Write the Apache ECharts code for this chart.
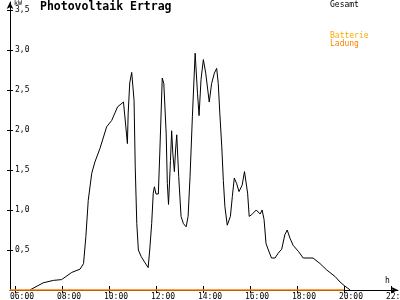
<!DOCTYPE html>
<html>
<head>
<meta charset="utf-8">
<script src="https://cdn.jsdelivr.net/npm/echarts@6/dist/echarts.min.js"></script>
<style>html,body{margin:0;padding:0;background:#fff}#c{width:400px;height:300px}</style>
</head>
<body>
<div id="c"></div>
<script>
const titleText = 'Photovoltaik Ertrag';
const seriesNames = ['Gesamt', 'Batterie Ladung'];
const yTicks = [0.5, 1.0, 1.5, 2.0, 2.5, 3.0, 3.5];
const xTicks = [6, 8, 10, 12, 14, 16, 18, 20, 22];

const gesamtTimes = ['06:38','07:12','07:38','07:59','08:25','08:46','08:55','09:01','09:07','09:16','09:24','09:37','09:54','10:07','10:22','10:37','10:43','10:47','10:49','10:53','10:58','11:00','11:04','11:07','11:11','11:15','11:22','11:32','11:40','11:44','11:49','11:53','11:56','12:00','12:06','12:10','12:16','12:20','12:26','12:29','12:32','12:37','12:40','12:43','12:47','12:50','12:53','12:58','13:04','13:10','13:17','13:22','13:27','13:33','13:40','13:46','13:50','13:55','14:01','14:07','14:16','14:22','14:29','14:35','14:39','14:43','14:48','14:52','14:56','15:02','15:05','15:10','15:15','15:20','15:26','15:32','15:36','15:40','15:46','15:50','15:54','15:58','16:04','16:16','16:26','16:31','16:36','16:41','16:47','16:55','17:04','17:12','17:21','17:29','17:35','17:42','17:50','18:04','18:16','18:41','18:59','19:16','19:37','19:50','20:02','20:16'];
const gesamtValues = [0,0.09,0.12,0.13,0.22,0.26,0.33,0.67,1.12,1.46,1.60,1.77,2.04,2.12,2.29,2.35,2.04,1.83,2.21,2.59,2.72,2.73,2.37,1.54,0.83,0.50,0.42,0.34,0.28,0.50,0.83,1.21,1.29,1.20,1.20,1.75,2.65,2.58,1.96,1.33,1.07,1.62,1.99,1.71,1.48,1.75,1.94,1.42,0.92,0.83,0.79,0.92,1.42,2.17,2.96,2.46,2.18,2.63,2.88,2.71,2.35,2.58,2.71,2.77,2.58,2.21,1.79,1.37,1.04,0.81,0.79,0.92,1.17,1.40,1.33,1.23,1.21,1.31,1.48,1.46,1.21,0.92,0.94,1.00,0.95,1.00,0.88,0.58,0.50,0.40,0.40,0.46,0.51,0.69,0.75,0.65,0.56,0.48,0.40,0.40,0.33,0.25,0.17,0.10,0.05,0];

const ladungTimes = ['05:47','20:00'];
const ladungValues = [0, 0];

function toHours(s){const p=s.split(':');return +p[0] + (+p[1])/60;}
function pairs(ts, vs){return ts.map((t,i)=>[toHours(t), vs[i]]);}

const FONT = '"DejaVu Sans Mono", monospace';
const chart = echarts.init(document.getElementById('c'), null, {renderer:'canvas'});
const xMin = 5.787, xMax = 22.3;
chart.setOption({
  animation: false,
  backgroundColor: '#ffffff',
  title: {
    text: titleText, left: 40, top: 1, padding: 0,
    textStyle: {fontFamily: FONT, fontSize: 11.5, fontWeight: 'bold', color: '#000'}
  },
  grid: {left: 10, right: 2, top: 2, bottom: 10, containLabel: false, outerBoundsMode: 'none'},
  xAxis: [{
    type: 'value', min: xMin, max: xMax, position: 'bottom',
    splitLine: {show: false},
    axisLine: {show: true, lineStyle: {color: '#000', width: 1}, symbol: ['none','arrow'], symbolSize: [5,7]},
    axisTick: {show: true, length: 3, customValues: xTicks, lineStyle: {color:'#000'}},
    axisLabel: {
      customValues: xTicks, margin: 3, color: '#000', fontFamily: FONT, fontSize: 8,
      padding: [0,0,0,14], hideOverlap: false,
      formatter: v => String(Math.round(v)).padStart(2,'0') + ':00'
    }
  }, {
    type: 'value', min: xMin, max: xMax, position: 'bottom',
    splitLine: {show: false}, axisLine: {show: false},
    axisTick: {show: true, inside: true, length: 4, customValues: xTicks, lineStyle: {color:'#000'}},
    axisLabel: {show: false}
  }],
  yAxis: [{
    type: 'value', min: 0, max: 3.6, position: 'left',
    splitLine: {show: false},
    axisLine: {show: true, lineStyle: {color: '#000', width: 1}, symbol: ['none','arrow'], symbolSize: [5,7]},
    axisTick: {show: true, length: 3, customValues: yTicks, lineStyle: {color:'#000'}},
    axisLabel: {
      customValues: yTicks, inside: true, margin: 5, color: '#000', fontFamily: FONT, fontSize: 8,
      formatter: v => v.toFixed(1).replace('.', ',')
    }
  }, {
    type: 'value', min: 0, max: 3.6, position: 'left',
    splitLine: {show: false}, axisLine: {show: false},
    axisTick: {show: true, inside: true, length: 3, customValues: yTicks, lineStyle: {color:'#000'}},
    axisLabel: {show: false}
  }],
  graphic: [
    {type: 'text', left: 14, top: 0, style: {text: 'kW', font: '6.5px ' + FONT, fill: '#000'}},
    {type: 'text', left: 385, top: 277, style: {text: 'h', font: '8px ' + FONT, fill: '#000'}},
    {type: 'text', left: 330, top: 1, style: {text: 'Gesamt', font: '8px ' + FONT, fill: '#000'}},
    {type: 'text', left: 330, top: 32, style: {text: 'Batterie', font: '8px ' + FONT, fill: '#ffaa00'}},
    {type: 'text', left: 330, top: 40, style: {text: 'Ladung', font: '8px ' + FONT, fill: '#ff8000'}}
  ],
  series: [{
    name: seriesNames[0], type: 'line', xAxisIndex: 0, yAxisIndex: 0,
    data: pairs(gesamtTimes, gesamtValues), showSymbol: false, clip: false,
    lineStyle: {color: '#000', width: 1}, z: 3
  }, {
    name: seriesNames[1], type: 'line', xAxisIndex: 0, yAxisIndex: 0,
    data: pairs(ladungTimes, ladungValues), showSymbol: false, clip: false,
    lineStyle: {color: '#ff8000', width: 1.5}, z: 4
  }]
});
</script>
</body>
</html>
